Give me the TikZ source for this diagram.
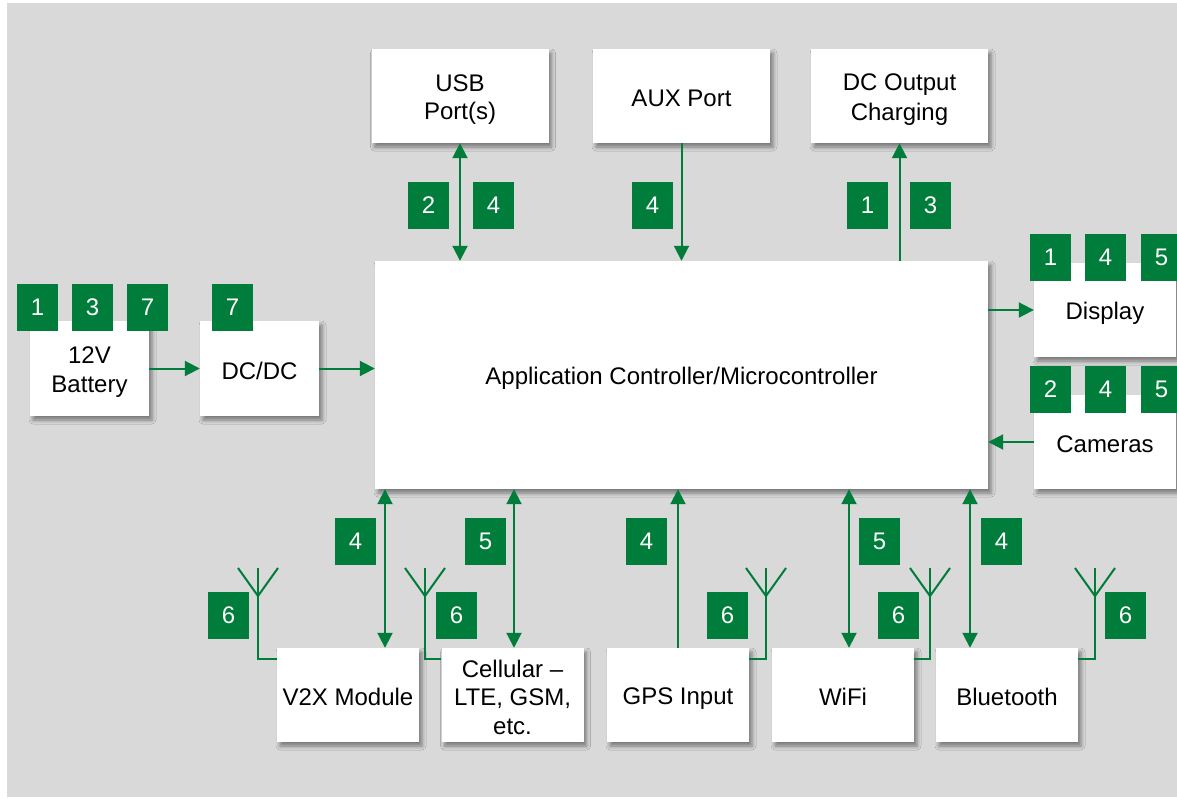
\documentclass[tikz,border=0pt]{standalone}
\usepackage{fontspec}
\setmainfont{Liberation Sans}
\usetikzlibrary{arrows.meta,shadows.blur}
\definecolor{grn}{RGB}{0,125,58}
\definecolor{bg}{RGB}{217,217,217}
\newcommand\boxstrut{\rule[-3pt]{0pt}{27pt}}
\tikzset{
  box/.style={fill=white, draw=none, inner sep=0pt, align=center,
    font=\fontsize{24}{28.5}\selectfont,
    execute at begin node=\boxstrut, execute at end node=\boxstrut,
    blur shadow={shadow xshift=3pt, shadow yshift=-4pt, shadow blur radius=4pt, shadow opacity=45}},
  topbox/.style={box, minimum width=177pt, minimum height=94pt},
  botbox/.style={box, minimum width=142pt, minimum height=94pt},
  badge/.style={fill=grn, text=white, inner sep=0pt, minimum width=41pt, minimum height=47pt,
    font=\fontsize{24}{28}\selectfont},
  wire/.style={draw=grn, line width=2pt},
  arr/.style={wire, -{Triangle[length=15pt,width=15pt]}},
  biarr/.style={wire, {Triangle[length=15pt,width=15pt]}-{Triangle[length=15pt,width=15pt]}},
}
\newcommand\myant[1]{\draw[wire] (#1-20,568) -- (#1,596) -- (#1+20,568);}
\begin{document}
\begin{tikzpicture}[x=1pt,y=-1pt]
\useasboundingbox (0,0) rectangle (1177,798);
\fill[bg] (7,3) rectangle (1177,797);

% boxes
\node[topbox] (usb) at (460,96) {\boxstrut USB\\Port(s)\boxstrut};
\node[topbox] (aux) at (681.5,96) {AUX Port};
\node[topbox] (dco) at (899.5,96) {\boxstrut DC Output\\Charging\boxstrut};
\node[box, minimum width=613pt, minimum height=228pt] (mcu) at (681.5,375) {Application Controller/Microcontroller};
\node[box, minimum width=119pt, minimum height=95pt] (bat) at (89.5,368.5) {\boxstrut 12V\\Battery\boxstrut};
\node[box, minimum width=119pt, minimum height=95pt] (dcdc) at (259.5,368.5) {DC/DC};
\node[botbox] (disp) at (1105,310) {Display};
\node[botbox] (cam) at (1105,442) {Cameras};
\node[botbox] (v2x) at (348,695) {V2X Module};
\node[botbox] (cell) at (512.5,695) {\boxstrut Cellular –\\LTE, GSM,\\etc.\boxstrut};
\node[botbox] (gps) at (678,695) {GPS Input};
\node[botbox] (wifi) at (843,695) {WiFi};
\node[botbox] (bt) at (1007,695) {Bluetooth};

% connectors
\coordinate (xv) at (385,0);
\coordinate (xc) at (514,0);
\coordinate (xw) at (849,0);
\coordinate (xb) at (970,0);
\draw[biarr] (usb.south) -- (usb.south |- mcu.north);
\draw[arr] (aux.south) -- (aux.south |- mcu.north);
\draw[arr] (dco.south |- mcu.north) -- (dco.south);
\draw[arr] (bat.east) -- (dcdc.west);
\draw[arr] (dcdc.east) -- (dcdc.east -| mcu.west);
\draw[arr] (disp.west -| mcu.east) -- (disp.west);
\draw[arr] (cam.west) -- (cam.west -| mcu.east);
\draw[biarr] (mcu.south -| xv) -- (v2x.north -| xv);
\draw[biarr] (mcu.south -| xc) -- (cell.north -| xc);
\draw[arr] (gps.north) -- (gps.north |- mcu.south);
\draw[biarr] (mcu.south -| xw) -- (wifi.north -| xw);
\draw[biarr] (mcu.south -| xb) -- (bt.north -| xb);

% antennas
\draw[wire] (v2x.north west) ++(0,11) -| (258,568);
\myant{258}
\draw[wire] (cell.north west) ++(0,11) -| (425,568);
\myant{425}
\draw[wire] (gps.north east) ++(0,11) -| (766,568);
\myant{766}
\draw[wire] (wifi.north east) ++(0,11) -| (930,568);
\myant{930}
\draw[wire] (bt.north east) ++(0,11) -| (1095,568);
\myant{1095}

% badges
\node[badge] (b1) at (37.5,307) {1};
\node[badge] (b2) at (92.5,307) {3};
\node[badge] (b3) at (147.5,307) {7};
\node[badge] (b4) at (232.5,307) {7};
\node[badge] (b5) at (428.5,205) {2};
\node[badge] (b6) at (493.5,205) {4};
\node[badge] (b7) at (652.5,205) {4};
\node[badge] (b8) at (867.5,205) {1};
\node[badge] (b9) at (930.5,205) {3};
\node[badge] (b10) at (1050.5,257) {1};
\node[badge] (b11) at (1105.5,257) {4};
\node[badge] (b12) at (1161.5,257) {5};
\node[badge] (b13) at (1050.5,389) {2};
\node[badge] (b14) at (1105.5,389) {4};
\node[badge] (b15) at (1161.5,389) {5};
\node[badge] (b16) at (355.5,541) {4};
\node[badge] (b17) at (485.5,541) {5};
\node[badge] (b18) at (646.5,541) {4};
\node[badge] (b19) at (879.5,541) {5};
\node[badge] (b20) at (1001.5,541) {4};
\node[badge] (b21) at (228.5,615) {6};
\node[badge] (b22) at (456.5,615) {6};
\node[badge] (b23) at (727.5,615) {6};
\node[badge] (b24) at (898.5,615) {6};
\node[badge] (b25) at (1125.5,615) {6};
\end{tikzpicture}
\end{document}
